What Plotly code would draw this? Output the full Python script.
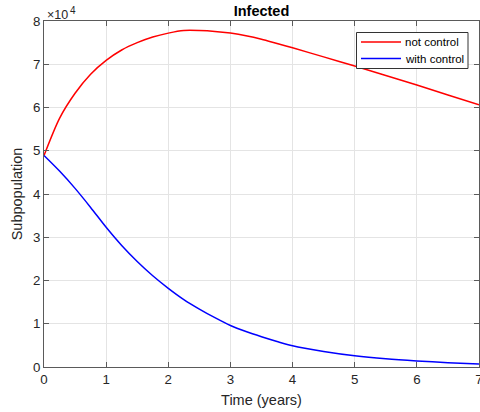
import plotly.graph_objects as go

# Time (years)
t = [0, 0.25, 0.5, 0.75, 1, 1.25, 1.5, 1.75, 2, 2.25, 2.5, 2.75, 3, 3.25, 3.5, 3.75,
     4, 4.5, 5, 5.5, 6, 6.5, 7]
# Infected, no control
not_control = [48900, 57500, 63300, 67700, 70900, 73300, 75000, 76300, 77200, 77800, 77800, 77600,
               77200, 76600, 75800, 74800, 73800, 71700, 69600, 67400, 65200, 62900, 60600]
# Infected, with control
with_control = [48900, 45300, 41300, 36900, 32300, 28100, 24400, 21100, 18200, 15600, 13400, 11400,
                9600, 8200, 7000, 5900, 4900, 3600, 2600, 1900, 1400, 1000, 700]

series_names = ["not control", "with control"]
series_colors = ["#ff0000", "#0000ff"]

y_tickvals = [0, 10000, 20000, 30000, 40000, 50000, 60000, 70000, 80000]
y_ticktext = ["0", "1", "2", "3", "4", "5", "6", "7", "8"]
x_tickvals = [0, 1, 2, 3, 4, 5, 6, 7]

FONT = "Liberation Sans, Arial, Helvetica, sans-serif"
AX = "#262626"

W, H = 480, 412
L, R, T, B = 44, 479, 21, 367   # plot area in pixels


def px_x(p):
    return (p - L) / (R - L)


def px_y(p):
    return (B - p) / (B - T)


fig = go.Figure()
for name, ys, col in zip(series_names, [not_control, with_control], series_colors):
    fig.add_trace(go.Scatter(x=t, y=ys, mode="lines", name=name, showlegend=False,
                             line=dict(color=col, width=1.5, shape="spline", smoothing=0.8)))

axis_common = dict(showline=True, linecolor="#5a5a5a", linewidth=1, mirror="ticks",
                   ticks="inside", ticklen=5, tickcolor="#5a5a5a", automargin=False,
                   showgrid=True, gridcolor="#e4e4e4", gridwidth=1, zeroline=False,
                   ticklabeloverflow="allow",
                   tickfont=dict(family=FONT, size=13.3, color=AX))

# MATLAB-style legend box
shapes = [dict(type="rect", xref="paper", yref="paper",
               x0=px_x(356.5), x1=px_x(468), y0=px_y(68.5), y1=px_y(32.5),
               fillcolor="white", line=dict(color="#333333", width=1), layer="above")]
annotations = []
for i, (name, col) in enumerate(zip(series_names, series_colors)):
    yy = 42 + i * 16.5
    shapes.append(dict(type="line", xref="paper", yref="paper",
                       x0=px_x(361), x1=px_x(401), y0=px_y(yy), y1=px_y(yy),
                       line=dict(color=col, width=1.5), layer="above"))
    annotations.append(dict(text=name, xref="paper", yref="paper", x=px_x(402.5), y=px_y(yy),
                            xanchor="left", yanchor="middle", showarrow=False,
                            font=dict(family=FONT, size=11.5, color="#000000")))

annotations.append(dict(text="×10", xref="paper", yref="paper", x=px_x(44.5), y=px_y(14.5),
                        xanchor="left", yanchor="middle", showarrow=False,
                        font=dict(family=FONT, size=12.5, color=AX)))
annotations.append(dict(text="4", xref="paper", yref="paper", x=px_x(67.5), y=px_y(10),
                        xanchor="left", yanchor="middle", showarrow=False,
                        font=dict(family=FONT, size=10, color=AX)))

fig.update_layout(
    width=W, height=H,
    margin=dict(l=L, r=W - R, t=T, b=H - B),
    paper_bgcolor="white", plot_bgcolor="white",
    title=dict(text="<b>Infected</b>", x=(L + R) / 2 / W, xanchor="center",
               y=1 - 11 / H, yanchor="middle", yref="container",
               font=dict(family=FONT, size=14.5, color="#000000")),
    xaxis=dict(range=[0, 7], tickvals=x_tickvals,
               title=dict(text="Time (years)", font=dict(family=FONT, size=14.5, color=AX), standoff=8),
               **axis_common),
    yaxis=dict(range=[0, 80000], tickvals=y_tickvals, ticktext=y_ticktext,
               title=dict(text="Subpopulation", font=dict(family=FONT, size=14.5, color=AX), standoff=6),
               **axis_common),
    showlegend=False,
    shapes=shapes,
    annotations=annotations,
)

fig.write_html("out.html", config={"displayModeBar": False},
               post_script="document.body.style.margin='0px';")
